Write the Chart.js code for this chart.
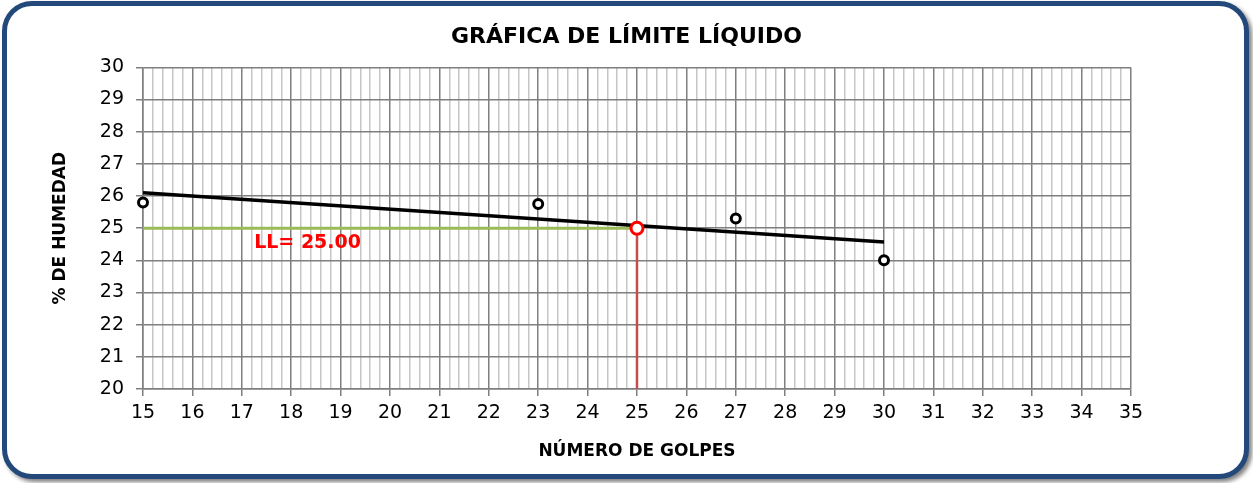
<!DOCTYPE html>
<html>
<head>
<meta charset="utf-8">
<script src="https://cdn.jsdelivr.net/npm/chart.js@4"></script>
<style>
  html, body { margin: 0; padding: 0; background: #fff; }
  #frame {
    position: absolute; left: 2px; top: 1px; width: 1237px; height: 468px;
    border: 5px solid #23497b; border-radius: 30px; background: #fff;
    box-shadow: 3px 3px 4px rgba(0,0,0,0.5);
  }
  #wrap { position: absolute; left: 0; top: 0; width: 1253px; height: 483px; }
</style>
</head>
<body>
<div id="frame"></div>
<div id="wrap"><canvas id="chart" width="1253" height="483"></canvas></div>
<script>
// measured points (golpes vs % humedad)
const golpes = [15, 23, 27, 30];
const humedad = [25.8, 25.75, 25.3, 24.0];

// trend line ends
const trendX = [15, 30];
const trendY = [26.1, 24.57];

// liquid limit
const llGolpes = 25;
const llValue = 25.0;

const xMin = 15, xMax = 35;
const yMin = 20, yMax = 30;

const FONT = "'DejaVu Sans', sans-serif";

function isMajor(v) {
    return Math.abs(v - Math.round(v)) < 1e-6;
}

// writes the LL label next to the green line
const llLabel = {
    id: 'llLabel',
    afterDatasetsDraw(chart) {
        const ctx = chart.ctx;
        const x = chart.scales.x.getPixelForValue(17.25);
        const y = chart.scales.y.getPixelForValue(24.55);
        ctx.save();
        ctx.fillStyle = '#ff0000';
        ctx.font = 'bold 19px ' + FONT;
        ctx.textAlign = 'left';
        ctx.textBaseline = 'middle';
        ctx.fillText('LL= ' + llValue.toFixed(2), x, y);
        ctx.restore();
    }
};

function initializeChart() {
    const ctx = document.getElementById('chart').getContext('2d');
    new Chart(ctx, {
        type: 'scatter',
        data: {
            datasets: [
                {
                    label: 'LL',
                    data: [{x: llGolpes, y: llValue}],
                    pointRadius: 6,
                    pointBorderWidth: 3,
                    pointBorderColor: '#ff0000',
                    pointBackgroundColor: '#ffffff',
                    order: 0,
                    clip: false
                },
                {
                    label: 'Ensayos',
                    data: golpes.map((g, i) => ({x: g, y: humedad[i]})),
                    pointRadius: 4.5,
                    pointBorderWidth: 3,
                    pointBorderColor: '#000000',
                    pointBackgroundColor: '#ffffff',
                    order: 1,
                    clip: false
                },
                {
                    label: 'Tendencia',
                    data: trendX.map((g, i) => ({x: g, y: trendY[i]})),
                    showLine: true,
                    borderColor: '#000000',
                    borderWidth: 3.5,
                    pointRadius: 0,
                    order: 2
                },
                {
                    label: 'LL horizontal',
                    data: [{x: xMin, y: llValue}, {x: llGolpes, y: llValue}],
                    showLine: true,
                    borderColor: '#9bbb59',
                    borderWidth: 3,
                    pointRadius: 0,
                    order: 3
                },
                {
                    label: 'LL vertical',
                    data: [{x: llGolpes, y: yMin}, {x: llGolpes, y: llValue}],
                    showLine: true,
                    borderColor: '#c0504d',
                    borderWidth: 2.5,
                    pointRadius: 0,
                    order: 4
                }
            ]
        },
        options: {
            responsive: false,
            animation: false,
            layout: { padding: 0 },
            plugins: {
                legend: { display: false },
                tooltip: { enabled: false },
                title: {
                    display: true,
                    text: 'GRÁFICA DE LÍMITE LÍQUIDO',
                    color: '#000',
                    font: { family: FONT, size: 22, weight: 'bold', lineHeight: 1.2 },
                    padding: { top: 24, bottom: 17 }
                }
            },
            scales: {
                x: {
                    type: 'linear',
                    min: xMin,
                    max: xMax,
                    afterFit(scale) { scale.height = 94; },
                    ticks: {
                        stepSize: 0.2,
                        autoSkip: false,
                        maxRotation: 0,
                        color: '#000',
                        padding: 6,
                        font: { family: FONT, size: 19 },
                        callback: v => isMajor(v) ? String(Math.round(v)) : ''
                    },
                    grid: {
                        color: c => isMajor(c.tick.value) ? '#7f7f7f' : '#c6c6c6',
                        tickColor: c => isMajor(c.tick.value) ? '#7f7f7f' : 'rgba(0,0,0,0)',
                        lineWidth: 1.5,
                        tickLength: 7
                    },
                    border: { color: '#7f7f7f', width: 1.5 },
                    title: {
                        display: true,
                        text: 'NÚMERO DE GOLPES',
                        color: '#000',
                        font: { family: FONT, size: 17, weight: 'bold', lineHeight: 1.2 },
                        padding: { top: 0, bottom: 21 }
                    }
                },
                y: {
                    min: yMin,
                    max: yMax,
                    afterFit(scale) { scale.width = 143; },
                    ticks: {
                        stepSize: 1,
                        color: '#000',
                        padding: 12,
                        font: { family: FONT, size: 19 }
                    },
                    grid: {
                        color: '#7f7f7f',
                        lineWidth: 1.5,
                        tickLength: 7
                    },
                    border: { color: '#7f7f7f', width: 1.5 },
                    title: {
                        display: true,
                        text: '% DE HUMEDAD',
                        color: '#000',
                        font: { family: FONT, size: 17, weight: 'bold', lineHeight: 1.2 },
                        padding: { top: 50, bottom: 0 }
                    }
                },
                // empty right-hand spacer so the title stays centred on the page
                yRight: {
                    position: 'right',
                    min: yMin,
                    max: yMax,
                    afterFit(scale) { scale.width = 122; },
                    grid: { display: false, drawOnChartArea: false },
                    border: { display: false },
                    ticks: { display: false }
                }
            }
        },
        plugins: [llLabel]
    });
}

initializeChart();
</script>
</body>
</html>
